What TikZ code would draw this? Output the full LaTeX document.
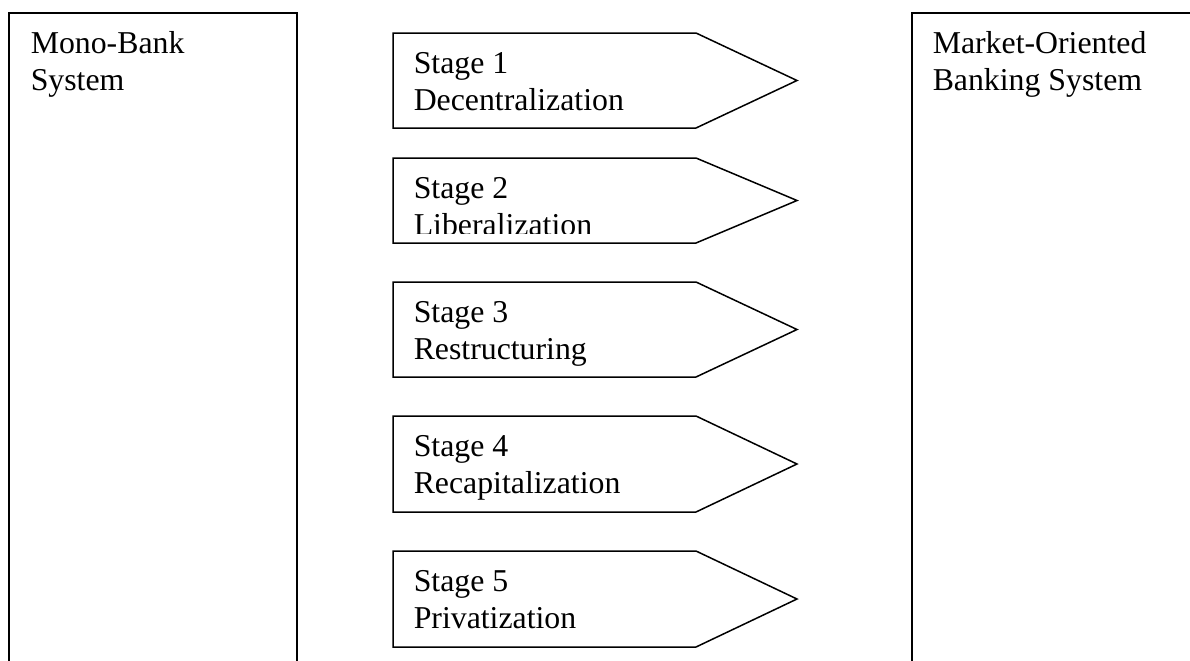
\documentclass[tikz,border=0pt]{standalone}
\usepackage{fontspec}
\setmainfont{Liberation Serif}

\begin{document}
\begin{tikzpicture}[x=0.5pt, y=-0.5pt, line width=0.75pt,
    txt/.style={anchor=base west, inner sep=0pt, align=left,
                font=\fontsize{15.9}{18.5}\selectfont}]
        \useasboundingbox (0,0) rectangle (1190,660);

        % Mono-bank box (runs off the page at the bottom)
        \draw (9,661) -- (9,13) -- (297,13) -- (297,661);
        \node[txt] (mono) at (30,90) {Mono-Bank\\System};

        % Market-oriented box (runs off the page at the right)
        \draw (1191,13) -- (912,13) -- (912,661);
        \node[txt] (market) at (932,90) {Market-Oriented\\Banking System};

        % Stage 1
        \draw (393,33) -- (696,33) -- (797,80.5) -- (696,128) -- (393,128) -- cycle;
        \node[txt] (s1) at (413,110) {Stage 1\\Decentralization};

        % Stage 2 (shorter box, text cut at the bottom)
        \draw (393,158) -- (696,158) -- (797,200.5) -- (696,243) -- (393,243) -- cycle;
        \begin{scope}
          \clip (394,159) rectangle (696,233.5);
          \node[txt] (s2) at (413,235) {Stage 2\\Liberalization};
        \end{scope}

        % Stage 3
        \draw (393,282) -- (696,282) -- (797,329.5) -- (696,377) -- (393,377) -- cycle;
        \node[txt] (s3) at (413,359) {Stage 3\\Restructuring};

        % Stage 4
        \draw (393,416) -- (696,416) -- (797,464) -- (696,512) -- (393,512) -- cycle;
        \node[txt] (s4) at (413,493) {Stage 4\\Recapitalization};

        % Stage 5
        \draw (393,551) -- (696,551) -- (797,599) -- (696,647) -- (393,647) -- cycle;
        \node[txt] (s5) at (413,628) {Stage 5\\Privatization};
      \end{tikzpicture}
\end{document}
